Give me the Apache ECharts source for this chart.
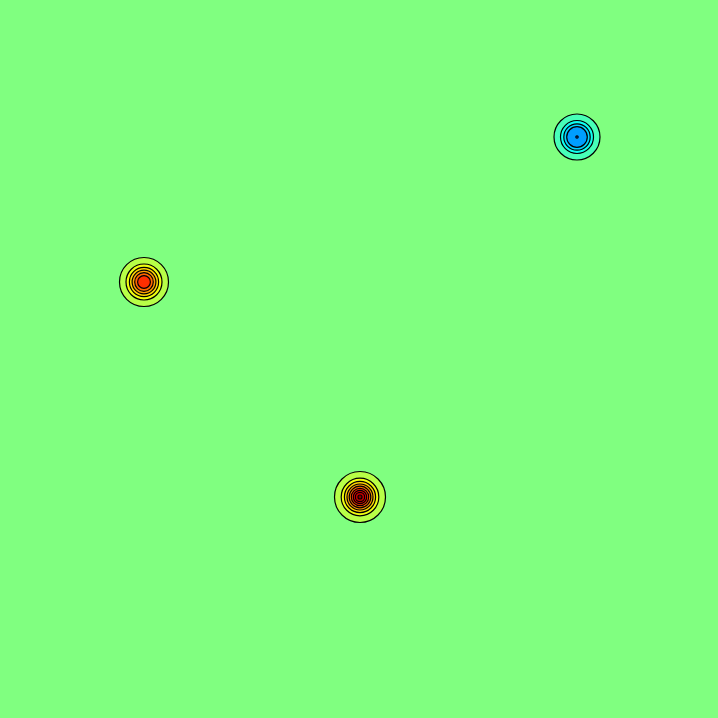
<!DOCTYPE html>
<html>
<head>
<meta charset="utf-8">
<script src="https://cdn.jsdelivr.net/npm/echarts@6/dist/echarts.min.js"></script>
<style>html,body{margin:0;padding:0;background:#80ff80;}#chart{width:718px;height:718px;}</style>
</head>
<body>
<div id="chart"></div>
<script>
// Peak centres (plot units, y measured downward)
const centersX = [577, 144, 360];
const centersY = [137, 282, 497];
// Contour ring radii (outer to inner) and signed level index of area inside each ring
const ringRadiiA = [23, 16.5, 13.2, 10.3, 1.2];
const ringLevelsA = [-1, -2, -3, -4, -5];
const ringRadiiB = [24.5, 18, 14.6, 11.9, 9.3, 6.4];
const ringLevelsB = [1, 2, 3, 4, 5, 6];
const ringRadiiC = [25.5, 18.8, 15.6, 13.0, 10.8, 8.7, 6.7, 4.7, 2.0];
const ringLevelsC = [1, 2, 3, 4, 5, 6, 7, 8, 9];

const rings = [[ringRadiiA, ringLevelsA], [ringRadiiB, ringLevelsB], [ringRadiiC, ringLevelsC]];
const data = [];
rings.forEach(function (rg, i) {
  rg[0].forEach(function (r, j) {
    data.push([centersX[i], centersY[i], r, rg[1][j]]);
  });
});
// draw larger rings first
data.sort(function (a, b) { return b[2] - a[2]; });

function clamp(v) { return Math.max(0, Math.min(1, v)); }
function jet(t) {
  const r = clamp(1.5 - Math.abs(4 * t - 3));
  const g = clamp(1.5 - Math.abs(4 * t - 2));
  const b = clamp(1.5 - Math.abs(4 * t - 1));
  return 'rgb(' + Math.round(r * 255) + ',' + Math.round(g * 255) + ',' + Math.round(b * 255) + ')';
}
const STEP = 0.055;

const chart = echarts.init(document.getElementById('chart'), null, { renderer: 'canvas' });
chart.setOption({
  animation: false,
  backgroundColor: jet(0.5),
  grid: { left: 0, right: 0, top: 0, bottom: 0, show: false },
  xAxis: { type: 'value', min: 0, max: 718, show: false },
  yAxis: { type: 'value', min: 0, max: 718, inverse: true, show: false },
  series: [{
    type: 'custom',
    coordinateSystem: 'cartesian2d',
    data: data,
    renderItem: function (params, api) {
      const c = api.coord([api.value(0), api.value(1)]);
      const r = api.size([api.value(2), 0])[0];
      const lvl = api.value(3);
      return {
        type: 'circle',
        shape: { cx: c[0], cy: c[1], r: r },
        style: { fill: jet(0.5 + lvl * STEP), stroke: '#000', lineWidth: 1.2 }
      };
    }
  }]
});
</script>
</body>
</html>
